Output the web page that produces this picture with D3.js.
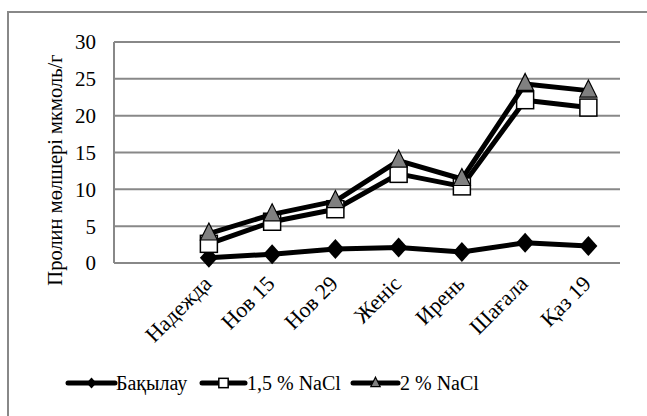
<!DOCTYPE html>
<html><head><meta charset="utf-8">
<script src="https://cdn.jsdelivr.net/npm/d3@7/dist/d3.min.js"></script>
<style>body{margin:0;background:#fff}svg{display:block}</style>
</head><body>
<svg id="c" width="647" height="416" font-family="'Liberation Serif', 'Times New Roman', serif"></svg>
<script>
const categories = ["", "Надежда", "Нов 15", "Нов 29", "Женіс", "Ирень", "Шағала", "Қаз 19"];
const control = [null, 0.7, 1.2, 1.9, 2.1, 1.5, 2.75, 2.3];
const nacl15 = [null, 2.6, 5.6, 7.3, 12.1, 10.4, 22.1, 21.1];
const nacl2 = [null, 4.0, 6.6, 8.4, 13.9, 11.4, 24.3, 23.4];
const yTicks = [0, 5, 10, 15, 20, 25, 30];
const seriesNames = ["Бақылау", "1,5 % NaCl", "2 % NaCl"];

const svg = d3.select("#c");
svg.append("rect").attr("x", 8).attr("y", 12).attr("width", 660).attr("height", 430)
  .attr("fill", "none").attr("stroke", "#888").attr("stroke-width", 2);

const L = 114, R = 620, T = 42, B = 263;
const x = d3.scaleBand().domain(categories.map((c,i)=>i)).range([L, R]);
const y = d3.scaleLinear().domain([0, 30]).range([B, T]);
const cx = i => x(i) + x.bandwidth()/2;

svg.append("g").selectAll("line").data(yTicks).join("line")
  .attr("x1", L).attr("x2", R).attr("y1", d=>y(d)).attr("y2", d=>y(d))
  .attr("stroke", "#888").attr("stroke-width", 2);
svg.append("line").attr("x1", L).attr("x2", L).attr("y1", T).attr("y2", B)
  .attr("stroke", "#888").attr("stroke-width", 2);

svg.append("g").selectAll("text").data(yTicks).join("text")
  .attr("x", 96).attr("y", d=>y(d)).attr("dy", "0.35em").attr("text-anchor", "end")
  .attr("font-size", 21).text(d=>d);

svg.append("text").attr("transform", `translate(62,170) rotate(-90)`)
  .attr("text-anchor", "middle").attr("font-size", 20.5).text("Пролин мөлшері мкмоль/г");

svg.append("g").selectAll("text").data(categories.map((c,i)=>({c,i})).filter(d=>d.c)).join("text")
  .attr("transform", d=>`translate(${cx(d.i)+4},${B+22}) rotate(-45)`)
  .attr("text-anchor", "end").attr("font-size", 22).text(d=>d.c);

const line = d3.line().defined(d=>d.v!=null).x(d=>cx(d.i)).y(d=>y(d.v));
function drawSeries(vals, kind) {
  const data = vals.map((v,i)=>({v,i}));
  svg.append("path").datum(data).attr("d", line).attr("fill", "none")
    .attr("stroke", "#000").attr("stroke-width", 5).attr("stroke-linejoin", "round");
  const pts = data.filter(d=>d.v!=null);
  drawMarkers(svg, pts.map(d=>[cx(d.i), y(d.v)]), kind, 1);
}
function drawMarkers(g, coords, kind, s) {
  coords.forEach(([px,py])=>{
    if (kind==="diamond") {
      const rx = 9*s, ry = 10*s;
      g.append("path").attr("d", `M${px},${py-ry}L${px+rx},${py}L${px},${py+ry}L${px-rx},${py}Z`).attr("fill", "#000");
    } else if (kind==="square") {
      const h = 8.5*s;
      g.append("rect").attr("x", px-h).attr("y", py-h).attr("width", 2*h).attr("height", 2*h)
        .attr("fill", "#fff").attr("stroke", "#000").attr("stroke-width", 1.5);
    } else {
      const w = 8.5*s, h = 17*s;
      g.append("path").attr("d", `M${px},${py-h*0.62}L${px+w},${py+h*0.38}L${px-w},${py+h*0.38}Z`)
        .attr("fill", "#808080").attr("stroke", "#000").attr("stroke-width", 1.2);
    }
  });
}
drawSeries(control, "diamond");
drawSeries(nacl15, "square");
drawSeries(nacl2, "triangle");

const legend = [{x1:68,x2:115,tx:116,kind:"diamond",name:seriesNames[0]},
                {x1:202,x2:245,tx:247,kind:"square",name:seriesNames[1]},
                {x1:353,x2:398,tx:400,kind:"triangle",name:seriesNames[2]}];
const ly = 383;
legend.forEach(l=>{
  svg.append("line").attr("x1", l.x1).attr("x2", l.x2).attr("y1", ly).attr("y2", ly)
    .attr("stroke", "#000").attr("stroke-width", 5).attr("stroke-linecap", "round");
  drawMarkers(svg, [[(l.x1+l.x2)/2, ly]], l.kind, 0.55);
  svg.append("text").attr("x", l.tx).attr("y", ly).attr("dy", "0.35em").attr("font-size", 20).text(l.name);
});
</script>
</body></html>
